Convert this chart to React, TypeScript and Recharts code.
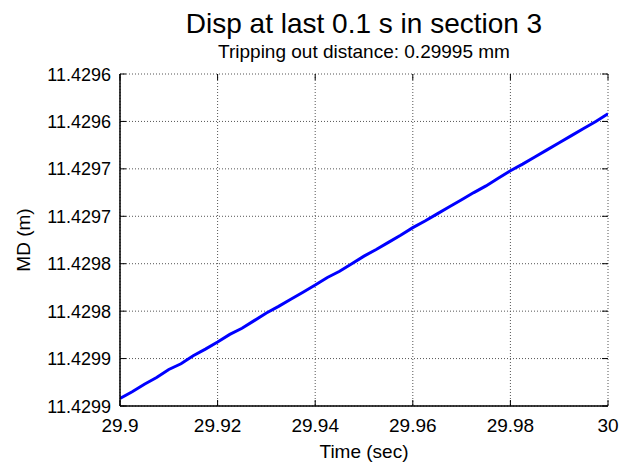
import React from "react";
import { LineChart, Line, XAxis, YAxis, CartesianGrid } from "recharts";

// Elapsed time over the final 0.1 s of section 3
const timeSec = [
  29.9, 29.9025, 29.905, 29.9075, 29.91, 29.9125, 29.915, 29.9175, 29.92, 29.9225,
  29.925, 29.9275, 29.93, 29.9325, 29.935, 29.9375, 29.94, 29.9425, 29.945, 29.9475,
  29.95, 29.9525, 29.955, 29.9575, 29.96, 29.9625, 29.965, 29.9675, 29.97, 29.9725,
  29.975, 29.9775, 29.98, 29.9825, 29.985, 29.9875, 29.99, 29.9925, 29.995, 29.9975,
  30.0,
];

// Measured depth (m) at each time sample
const mdMeters = [
  11.429892, 11.429885, 11.429877, 11.42987, 11.4298615, 11.4298555, 11.429847, 11.42984, 11.4298325, 11.4298245,
  11.429818, 11.42981, 11.429802, 11.429795, 11.4297875, 11.42978, 11.4297725, 11.4297645, 11.429758, 11.42975,
  11.429742, 11.429735, 11.4297275, 11.42972, 11.429712, 11.429705, 11.4296975, 11.42969, 11.4296825, 11.429675,
  11.429668, 11.42966, 11.429652, 11.429645, 11.4296375, 11.42963, 11.4296225, 11.429615, 11.4296075, 11.4296,
  11.429592,
];

const xTicks = [29.9, 29.92, 29.94, 29.96, 29.98, 30];
const xTickLabels = ["29.9", "29.92", "29.94", "29.96", "29.98", "30"];

const yTicks = [11.42955, 11.4296, 11.42965, 11.4297, 11.42975, 11.4298, 11.42985, 11.4299];
const yTickLabels = ["11.4296", "11.4296", "11.4297", "11.4297", "11.4298", "11.4298", "11.4299", "11.4299"];

const titleText = "Disp at last 0.1 s in section 3";
const subtitleText = "Tripping out distance: 0.29995 mm";
const xLabelText = "Time (sec)";
const yLabelText = "MD (m)";

const data = timeSec.map((t, i) => ({ t, md: mdMeters[i] }));

const W = 622;
const H = 465;
const PLOT_LEFT = 120;
const PLOT_RIGHT = 608;
const PLOT_TOP = 74;
const PLOT_BOTTOM = 406;
const TICK_LEN = 6;
const FONT = "'Liberation Sans', Arial, Helvetica, sans-serif";

const XTick = (props: any) => {
  const { x, payload } = props;
  const idx = xTicks.indexOf(payload.value);
  return (
    <g>
      <line x1={x} x2={x} y1={PLOT_BOTTOM} y2={PLOT_BOTTOM - TICK_LEN} stroke="#000" strokeWidth={1} />
      <line x1={x} x2={x} y1={PLOT_TOP} y2={PLOT_TOP + TICK_LEN} stroke="#000" strokeWidth={1} />
      <text x={x} y={PLOT_BOTTOM + 26} textAnchor="middle" fontFamily={FONT} fontSize={19} fill="#000">
        {idx >= 0 ? xTickLabels[idx] : ""}
      </text>
    </g>
  );
};

const YTick = (props: any) => {
  const { y, payload } = props;
  const idx = yTicks.indexOf(payload.value);
  return (
    <g>
      <line x1={PLOT_LEFT} x2={PLOT_LEFT + TICK_LEN} y1={y} y2={y} stroke="#000" strokeWidth={1} />
      <line x1={PLOT_RIGHT} x2={PLOT_RIGHT - TICK_LEN} y1={y} y2={y} stroke="#000" strokeWidth={1} />
      <text x={PLOT_LEFT - 9} y={y + 6.5} textAnchor="end" fontFamily={FONT} fontSize={18} fill="#000">
        {idx >= 0 ? yTickLabels[idx] : ""}
      </text>
    </g>
  );
};

export default function App() {
  return (
    <div style={{ position: "absolute", left: 0, top: 0, width: W, height: H, background: "#fff" }}>
      <LineChart
        width={W}
        height={H}
        data={data}
        margin={{ top: PLOT_TOP, right: W - PLOT_RIGHT, bottom: 0, left: 0 }}
      >
        <CartesianGrid stroke="#555" strokeDasharray="1 2" strokeWidth={1} />
        <XAxis
          dataKey="t"
          type="number"
          domain={[29.9, 30]}
          ticks={xTicks}
          allowDataOverflow
          height={H - PLOT_BOTTOM}
          tickLine={false}
          axisLine={{ stroke: "#000", strokeWidth: 1.5 }}
          tick={<XTick />}
          interval={0}
        />
        <XAxis
          xAxisId="top"
          orientation="top"
          dataKey="t"
          type="number"
          domain={[29.9, 30]}
          allowDataOverflow
          height={0}
          tick={false}
          tickLine={false}
          axisLine={{ stroke: "#000", strokeWidth: 1.5 }}
        />
        <YAxis
          type="number"
          domain={[11.42955, 11.4299]}
          reversed
          ticks={yTicks}
          allowDataOverflow
          width={PLOT_LEFT}
          tickLine={false}
          axisLine={{ stroke: "#000", strokeWidth: 1.5 }}
          tick={<YTick />}
          interval={0}
        />
        <YAxis
          yAxisId="right"
          orientation="right"
          type="number"
          domain={[11.42955, 11.4299]}
          width={0}
          tick={false}
          tickLine={false}
          axisLine={{ stroke: "#000", strokeWidth: 1.5 }}
        />
        <Line
          type="linear"
          dataKey="md"
          stroke="#0000ff"
          strokeWidth={3}
          dot={false}
          isAnimationActive={false}
        />
      </LineChart>
      <svg
        width={W}
        height={H}
        style={{ position: "absolute", left: 0, top: 0, pointerEvents: "none" }}
      >
        <text x={(PLOT_LEFT + PLOT_RIGHT) / 2} y={33} textAnchor="middle" fontFamily={FONT} fontSize={28} fill="#000">
          {titleText}
        </text>
        <text x={(PLOT_LEFT + PLOT_RIGHT) / 2} y={57.5} textAnchor="middle" fontFamily={FONT} fontSize={19} fill="#000">
          {subtitleText}
        </text>
        <text x={(PLOT_LEFT + PLOT_RIGHT) / 2} y={458} textAnchor="middle" fontFamily={FONT} fontSize={19} fill="#000">
          {xLabelText}
        </text>
        <text
          x={30}
          y={(PLOT_TOP + PLOT_BOTTOM) / 2}
          textAnchor="middle"
          fontFamily={FONT}
          fontSize={19}
          fill="#000"
          transform={`rotate(-90 30 ${(PLOT_TOP + PLOT_BOTTOM) / 2})`}
        >
          {yLabelText}
        </text>
      </svg>
    </div>
  );
}
